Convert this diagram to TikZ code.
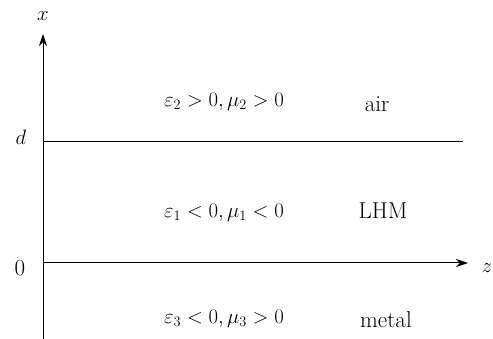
\documentclass[tikz,border=0pt]{standalone}
\usetikzlibrary{arrows.meta}
\begin{document}
\begin{tikzpicture}[x=1pt,y=-1pt,
  axis/.style={line width=1pt,-{Stealth[length=12pt,width=8pt]}},
  bound/.style={line width=1pt},
  lab/.style={font=\fontsize{20}{24}\selectfont, inner sep=0pt},
  txt/.style={font=\fontsize{23}{28}\selectfont, inner sep=0pt}]
\useasboundingbox (0,0) rectangle (493,339);
\coordinate (xo) at (43,339);
\coordinate (xt) at (43,34);
\coordinate (z0) at (43,263);
\coordinate (zt) at (468,263);
\coordinate (d0) at (43,142);
\coordinate (d1) at (463,142);
\draw[axis] (xo) -- (xt);
\draw[axis] (z0) -- (zt);
\draw[bound] (d0) -- (d1);
\node[lab] (xl) at (43,16) {$x$};
\node[lab] (zl) at (487,268) {$z$};
\node[lab] (dl) at (21,137) {$d$};
\node[txt] (ol) at (20,268) {0};
\node[lab] (e2) at (224,102) {$\varepsilon_2>0,\mu_2>0$};
\node[txt] (air) at (377,104) {air};
\node[lab] (e1) at (224,213) {$\varepsilon_1<0,\mu_1<0$};
\node[txt] (lhm) at (383,211) {LHM};
\node[lab] (e3) at (224,319) {$\varepsilon_3<0,\mu_3>0$};
\node[txt] (met) at (386,320) {metal};
\end{tikzpicture}
\end{document}
